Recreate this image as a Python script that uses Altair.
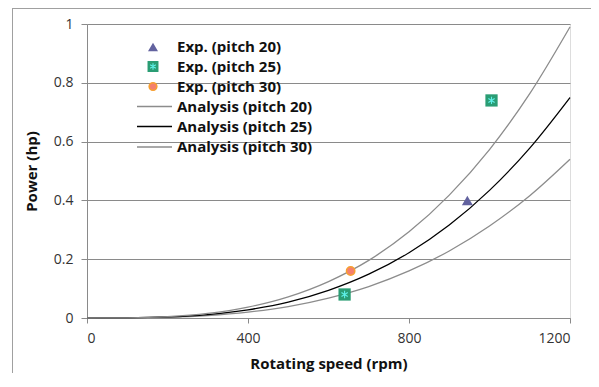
import altair as alt
import pandas as pd

# ---- data ----
speed = [0, 100, 200, 300, 400, 500, 600, 700, 800, 900, 1000, 1100, 1200]
analysis_p20 = [0, 0.0003, 0.0025, 0.0084, 0.020, 0.039, 0.068, 0.107, 0.160, 0.228, 0.313, 0.416, 0.540]
analysis_p25 = [0, 0.0004, 0.0035, 0.0117, 0.028, 0.054, 0.094, 0.149, 0.222, 0.316, 0.434, 0.578, 0.750]
analysis_p30 = [0, 0.0006, 0.0046, 0.0155, 0.037, 0.072, 0.124, 0.196, 0.293, 0.418, 0.573, 0.763, 0.990]

exp20_speed = [945]
exp20_power = [0.40]
exp25_speed = [640, 1005]
exp25_power = [0.08, 0.74]
exp30_speed = [655]
exp30_power = [0.16]

legend_labels = ["Exp. (pitch 20)", "Exp. (pitch 25)", "Exp. (pitch 30)",
                 "Analysis (pitch 20)", "Analysis (pitch 25)", "Analysis (pitch 30)"]

FONT = "Open Sans"
GRAY_LINE = "#8a8a8a"
TRI = "#62629f"
SQ = "#2a9d74"
AST = "#5ff0e8"
CIRC_FILL = "#f4806e"
CIRC_STROKE = "#f7a030"

lines_df = pd.concat([
    pd.DataFrame({"speed": speed, "power": analysis_p20, "series": "Analysis (pitch 20)"}),
    pd.DataFrame({"speed": speed, "power": analysis_p25, "series": "Analysis (pitch 25)"}),
    pd.DataFrame({"speed": speed, "power": analysis_p30, "series": "Analysis (pitch 30)"}),
])

xs = alt.Scale(domain=[0, 1200], nice=False)
ys = alt.Scale(domain=[0, 1], nice=False)

X = alt.X("speed:Q", scale=xs, title="Rotating speed (rpm)",
          axis=alt.Axis(values=[0, 400, 800, 1200], format="d", grid=False, domainColor=GRAY_LINE,
                        tickColor=GRAY_LINE, tickSize=5, labelPadding=8, titlePadding=11,
                        labelFont=FONT, labelFontSize=14, labelColor="#333333",
                        titleFont=FONT, titleFontSize=15, titleFontWeight="bold",
                        titleColor="#111111"))
Y = alt.Y("power:Q", scale=ys, title="Power (hp)",
          axis=alt.Axis(values=[0, 0.2, 0.4, 0.6, 0.8, 1.0], format="~g", grid=True,
                        gridColor=GRAY_LINE, gridWidth=1, domainColor=GRAY_LINE,
                        tickColor=GRAY_LINE, tickSize=6, labelPadding=8, titlePadding=14,
                        labelFont=FONT, labelFontSize=14, labelColor="#333333",
                        titleFont=FONT, titleFontSize=15, titleFontWeight="bold",
                        titleColor="#111111"))

line_colors = {"Analysis (pitch 20)": "#8c8c8c", "Analysis (pitch 25)": "#000000",
               "Analysis (pitch 30)": "#8c8c8c"}

layers = []
for name, col in line_colors.items():
    layers.append(
        alt.Chart(lines_df[lines_df.series == name]).mark_line(
            color=col, strokeWidth=1.3, interpolate="monotone"
        ).encode(x=X, y=Y)
    )

d20 = pd.DataFrame({"speed": exp20_speed, "power": exp20_power})
d25 = pd.DataFrame({"speed": exp25_speed, "power": exp25_power})
d30 = pd.DataFrame({"speed": exp30_speed, "power": exp30_power})

ASTERISK = "M0,-0.7L0,0.7M-0.6,-0.38L0.6,0.38M-0.6,0.38L0.6,-0.38"

layers.append(alt.Chart(d20).mark_point(shape="triangle-up", filled=True, size=120,
                                        color=TRI, opacity=1).encode(x=X, y=Y))
layers.append(alt.Chart(d25).mark_point(shape="square", filled=True, size=150,
                                        color=SQ, opacity=1).encode(x=X, y=Y))
layers.append(alt.Chart(d25).mark_point(shape=ASTERISK, filled=False, size=110,
                                        color=AST, strokeWidth=1.1, opacity=1).encode(x=X, y=Y))
layers.append(alt.Chart(d30).mark_point(shape="circle", filled=True, size=70,
                                        fill=CIRC_FILL, stroke=CIRC_STROKE, strokeWidth=1.5,
                                        opacity=1).encode(x=X, y=Y))

# ---- manual legend (positions relative to plot area) ----
leg_df = pd.DataFrame({"label": legend_labels})
row_y = [23, 42.5, 62.5, 82.5, 102.5, 123]
sym_x = 66
text_x = 90
for i, lab in enumerate(legend_labels):
    base = alt.Chart(leg_df[leg_df.label == lab])
    layers.append(base.mark_text(align="left", baseline="middle", font=FONT, fontSize=15,
                                 fontWeight="bold", color="#111111").encode(
        x=alt.value(text_x), y=alt.value(row_y[i]), text="label:N"))
    if i == 0:
        layers.append(base.mark_point(shape="triangle-up", filled=True, size=100, color=TRI,
                                      opacity=1).encode(x=alt.value(sym_x), y=alt.value(row_y[i])))
    elif i == 1:
        layers.append(base.mark_point(shape="square", filled=True, size=120, color=SQ,
                                      opacity=1).encode(x=alt.value(sym_x), y=alt.value(row_y[i])))
        layers.append(base.mark_point(shape=ASTERISK, filled=False, size=90, color=AST,
                                      strokeWidth=1.1, opacity=1).encode(
            x=alt.value(sym_x), y=alt.value(row_y[i])))
    elif i == 2:
        layers.append(base.mark_point(shape="circle", filled=True, size=60, fill=CIRC_FILL,
                                      stroke=CIRC_STROKE, strokeWidth=1.5, opacity=1).encode(
            x=alt.value(sym_x), y=alt.value(row_y[i])))
    else:
        col = "#000000" if i == 4 else "#8c8c8c"
        layers.append(base.mark_rule(color=col, strokeWidth=1.3).encode(
            x=alt.value(50), x2=alt.value(85), y=alt.value(row_y[i])))

# ---- outer frame lines ----
frame_df = pd.DataFrame({"k": [0]})
fb = alt.Chart(frame_df)
layers.append(fb.mark_rule(color="#a0a0a0", strokeWidth=1).encode(
    x=alt.value(-75), x2=alt.value(520), y=alt.value(-15.5)))
layers.append(fb.mark_rule(color="#a0a0a0", strokeWidth=1).encode(
    x=alt.value(-74.5), y=alt.value(-16), y2=alt.value(380)))

chart = alt.layer(*layers).properties(
    width=483, height=294,
    autosize=alt.AutoSizeParams(type="none"),
    padding={"left": 79, "top": 16, "right": 21, "bottom": 55},
).configure_view(stroke=None).configure(background="white")

chart.save("out.html", embed_options={"renderer": "svg", "actions": False})
